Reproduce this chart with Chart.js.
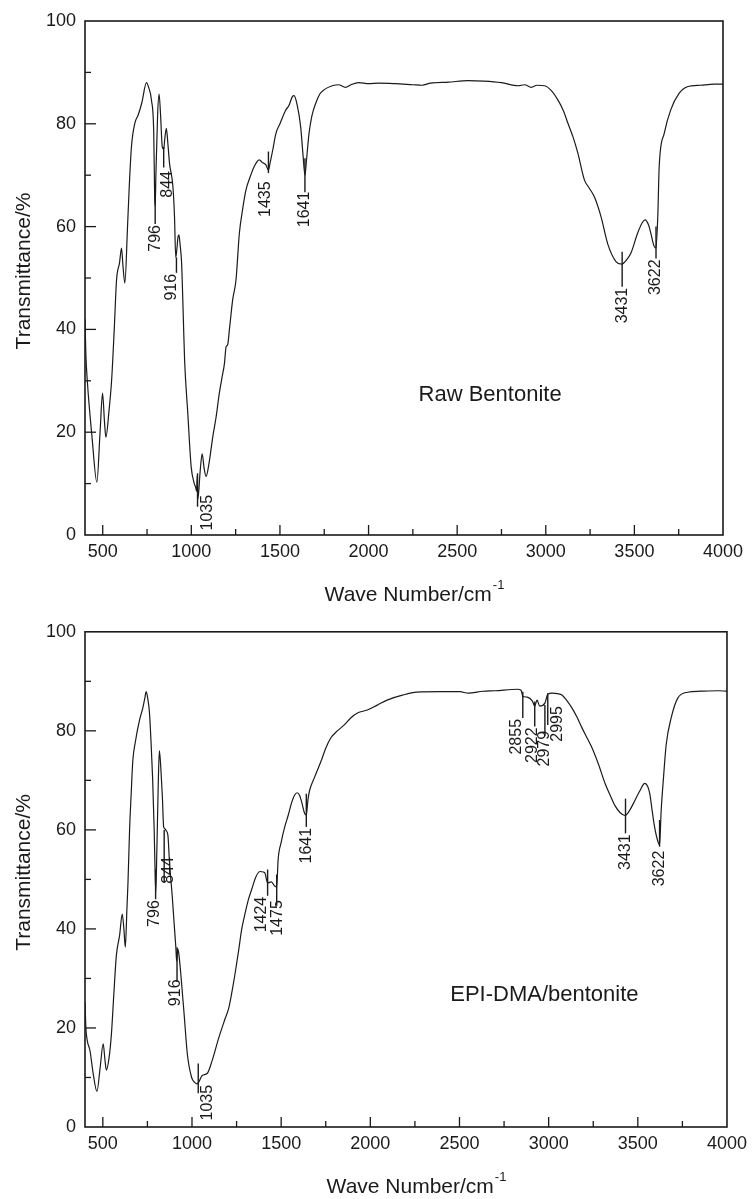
<!DOCTYPE html>
<html>
<head>
<meta charset="utf-8">
<script src="https://cdn.jsdelivr.net/npm/chart.js@4"></script>
<style>
  body { margin: 0; background: #fff; }
  canvas { display: block; }
</style>
</head>
<body>
<canvas id="rawChart" width="753" height="612"></canvas>
<canvas id="epiChart" width="753" height="587"></canvas>
<script>
// axis ticks
const xTickValues = [500, 1000, 1500, 2000, 2500, 3000, 3500, 4000];
const yTickValues = [0, 20, 40, 60, 80, 100];

// Raw bentonite spectrum (wave number, transmittance %)
const rawWave = [400, 405, 413, 440, 467, 485, 499, 510, 518, 535, 550, 565, 578, 595, 606, 615, 625, 640, 650, 662,
  681, 700, 720, 747, 760, 775, 788, 793, 796, 800, 810, 818, 826, 836, 844, 850, 859, 868, 877, 896,
  905, 912, 918, 925, 930, 938, 945, 955, 962, 980, 999, 1015, 1025, 1030, 1033, 1037, 1050, 1061, 1072, 1083,
  1100, 1121, 1140, 1158, 1175, 1187, 1196, 1205, 1215, 1233, 1252, 1271, 1290, 1308, 1330, 1355, 1383, 1400, 1421, 1435,
  1445, 1460, 1477, 1500, 1533, 1550, 1570, 1580, 1595, 1617, 1630, 1641, 1650, 1664, 1680, 1702, 1725, 1748, 1795, 1830,
  1870, 1900, 1945, 2000, 2057, 2150, 2250, 2301, 2350, 2450, 2563, 2650, 2750, 2844, 2880, 2918, 2950, 2993, 3030, 3069,
  3100, 3125, 3155, 3181, 3218, 3245, 3274, 3312, 3349, 3396, 3428, 3455, 3480, 3518, 3545, 3561, 3580, 3593, 3610, 3622,
  3632, 3640, 3668, 3705, 3752, 3799, 3874, 3950, 4000];
const rawTrans = [42, 35, 30, 18.9, 10.3, 20, 27.6, 22, 19, 24, 30, 40, 49.6, 53, 55.8, 52, 49, 60, 68, 75.5,
  80.1, 81.7, 84, 88, 87, 84.6, 78, 66, 64, 70, 82, 85.8, 82, 75.5, 75, 77, 79.1, 76, 72.3, 67.8,
  62, 54, 55.5, 58, 58.4, 56, 53, 42, 34, 23.7, 13.3, 10.2, 9.2, 8.5, 11.5, 7, 12.5, 15.8, 13, 11.4,
  14, 19.1, 23, 27.6, 31, 33.4, 36.6, 37, 40, 45.7, 49.6, 58.7, 63.5, 67.1, 69.5, 71.7, 73, 72.5, 72, 71,
  72.5, 75, 78.1, 80, 82.7, 83.5, 85.3, 85.5, 84, 79.4, 74, 70, 73, 78.1, 81.5, 84, 85.8, 86.6, 87.4, 87.6,
  87.1, 87.6, 88, 87.8, 87.9, 87.8, 87.6, 87.5, 87.9, 88.1, 88.4, 88.3, 88, 87.4, 87.6, 87.1, 87.5, 87.4, 86.5, 84.6,
  82.5, 80.1, 77.3, 74.3, 69.1, 67.5, 65.8, 61.9, 56.7, 53.2, 52.7, 53.5, 54.8, 58.7, 60.8, 61.3, 60.3, 58.7, 56.3, 55.8,
  62, 71.7, 78.1, 82.7, 85.9, 87.2, 87.5, 87.7, 87.7];

// EPI-DMA/bentonite spectrum
const epiWave = [400, 405, 413, 428, 445, 467, 485, 502, 512, 520, 535, 548, 562, 576, 594, 609, 618, 626, 635, 641,
  650, 659, 668, 683, 706, 724, 735, 743, 752, 761, 770, 779, 788, 794, 797, 803, 810, 817, 826, 834,
  841, 848, 856, 865, 874, 889, 900, 909, 914, 920, 926, 937, 956, 974, 998, 1015, 1029, 1040, 1057, 1085,
  1113, 1150, 1187, 1206, 1225, 1243, 1261, 1279, 1300, 1317, 1335, 1358, 1382, 1400, 1409, 1424, 1445, 1465, 1475, 1483,
  1500, 1520, 1540, 1557, 1575, 1590, 1603, 1613, 1632, 1641, 1650, 1659, 1687, 1724, 1750, 1779, 1815, 1854, 1890, 1928,
  1983, 2039, 2094, 2180, 2261, 2400, 2502, 2550, 2632, 2700, 2826, 2845, 2855, 2880, 2909, 2922, 2935, 2950, 2979, 2995,
  3020, 3050, 3076, 3100, 3131, 3160, 3187, 3215, 3243, 3279, 3317, 3345, 3372, 3400, 3428, 3455, 3483, 3510, 3539, 3555,
  3567, 3580, 3594, 3613, 3622, 3631, 3645, 3659, 3687, 3724, 3779, 3850, 3950, 4000];
const epiTrans = [25.3, 20, 17.4, 15.4, 11, 7.2, 12, 16.8, 13.5, 11.5, 14, 18.7, 27, 34.7, 38.7, 43, 40, 36.3, 44, 49.3,
  60, 67.3, 73.9, 77.9, 82.2, 84.6, 86.5, 87.9, 86.5, 83.9, 78, 70.6, 60, 50, 47.5, 56, 68, 76, 72, 66.6,
  60.6, 60.2, 59.8, 58.9, 53.3, 46.7, 41, 36.5, 33.5, 36, 35, 31, 22.7, 14.7, 10, 9, 8.7, 9.2, 10.4, 10.8,
  13.4, 18, 22, 24, 27.5, 31.3, 35.5, 40, 43.5, 46, 48, 50.5, 51.6, 51.5, 51.3, 49.3, 49.5, 48.6, 48.5, 54,
  57.5, 60.6, 63, 65.3, 67, 67.5, 67, 65.9, 63.3, 63, 66, 67.9, 70.6, 73.9, 76.5, 78.6, 80, 81.2, 82.6, 83.6,
  84.2, 85.2, 86.2, 87.2, 87.8, 87.9, 87.9, 87.6, 88, 88.1, 88.4, 88.2, 87, 86.8, 86, 85, 86.2, 85, 85.6, 87.4,
  87.6, 87.5, 87.2, 86.2, 84.6, 82.7, 80.6, 78.6, 76.6, 73.3, 69.3, 67, 64.9, 63.5, 62.9, 64, 65.9, 67.8, 69.4, 68.8,
  67.3, 64, 60.6, 57.6, 57, 63.9, 71, 77.2, 82.6, 86.6, 87.8, 88, 88.1, 88];

// peak markers: wave number, marker line top / bottom, label top (transmittance %)
const rawPeaks = [796, 844, 916, 1035, 1435, 1641, 3431, 3622];
const rawMarkTop = [66.5, 75.5, 54, 12, 74.6, 73.3, 55.1, 60];
const rawMarkBottom = [60.5, 71.5, 51, 5.5, 70.4, 66.7, 48.3, 53.8];
const rawLabelTop = [60.5, 71, 51, 8, 69, 67, 48.3, 53.8];

const epiPeaks = [796, 844, 916, 1035, 1424, 1475, 1641, 2855, 2922, 2979, 2995, 3431, 3622];
const epiMarkTop = [52, 60, 36.3, 12.8, 52, 51, 67.3, 87.9, 85.9, 85.2, 87.6, 66.3, 62];
const epiMarkBottom = [46, 49.3, 29.3, 6.8, 46.7, 44.7, 60.6, 82.6, 80.9, 78.9, 81.2, 59.3, 56.6];
const epiLabelTop = [46, 54.7, 30, 8.7, 46.7, 46, 60.6, 82.6, 80.9, 80.2, 85.2, 59.3, 56];

// label nudges in px (kept apart from the data)
const rawLabelShift = [0, 4, -5, 10, -3, 0, 0, 0];
const epiLabelShift = [-1, 4, -1, 9, -6, 1, 0, -6, -2, 0, 10, 0, 0];

const FONT = "'Liberation Sans', Arial, Helvetica, sans-serif";
const INK = '#1a1a1a';

Chart.defaults.font.family = FONT;
Chart.defaults.font.size = 18;
Chart.defaults.color = INK;

function line(ctx, x1, y1, x2, y2) {
  ctx.beginPath();
  ctx.moveTo(x1, y1);
  ctx.lineTo(x2, y2);
  ctx.stroke();
}

const ftirDecor = {
  id: 'ftirDecor',
  afterDraw(chart, args, o) {
    const { ctx, chartArea: a, scales: { x, y } } = chart;
    ctx.save();
    ctx.strokeStyle = INK;
    ctx.fillStyle = INK;

    // frame
    ctx.lineWidth = 1.6;
    ctx.strokeRect(a.left, a.top, a.right - a.left, a.bottom - a.top);

    // inward ticks, major + minor
    ctx.lineWidth = 1.3;
    for (let v = 500; v < 4000; v += 250) {
      const px = x.getPixelForValue(v);
      line(ctx, px, a.bottom, px, a.bottom - (v % 500 === 0 ? 10 : 6));
    }
    for (let v = 10; v < 100; v += 10) {
      const py = y.getPixelForValue(v);
      line(ctx, a.left, py, a.left + (v % 20 === 0 ? 11 : 6), py);
    }

    // peak markers
    ctx.lineWidth = 1.4;
    ctx.font = '16px ' + FONT;
    o.peaks.forEach((p, i) => {
      const px = x.getPixelForValue(p);
      line(ctx, px, y.getPixelForValue(o.markTop[i]), px, y.getPixelForValue(o.markBottom[i]));
      ctx.save();
      ctx.translate(px + o.shift[i], y.getPixelForValue(o.labelTop[i]) + 1);
      ctx.rotate(-Math.PI / 2);
      ctx.textAlign = 'right';
      ctx.textBaseline = 'middle';
      ctx.fillText(String(p), 0, 0);
      ctx.restore();
    });

    // sample name
    ctx.font = '22px ' + FONT;
    ctx.textAlign = 'left';
    ctx.textBaseline = 'middle';
    ctx.fillText(o.sample, x.getPixelForValue(o.sampleAt[0]), y.getPixelForValue(o.sampleAt[1]));

    // y title
    ctx.save();
    ctx.translate(24, (a.top + a.bottom) / 2 - 7);
    ctx.rotate(-Math.PI / 2);
    ctx.font = '21px ' + FONT;
    ctx.textAlign = 'center';
    ctx.fillText('Transmittance/%', 0, 0);
    ctx.restore();

    // x title with superscript
    ctx.font = '21px ' + FONT;
    const main = 'Wave Number/cm';
    const wMain = ctx.measureText(main).width;
    ctx.font = '13px ' + FONT;
    const wSup = ctx.measureText('-1').width;
    const cx = (a.left + a.right) / 2 + 10;
    const ty = a.bottom + 60;
    const x0 = cx - (wMain + wSup) / 2;
    ctx.textAlign = 'left';
    ctx.font = '21px ' + FONT;
    ctx.fillText(main, x0, ty);
    ctx.font = '13px ' + FONT;
    ctx.fillText('-1', x0 + wMain + 1, ty - 10);
    ctx.restore();
  }
};

function makeChart(id, wave, trans, decor, pad, xHeight) {
  return new Chart(document.getElementById(id), {
    type: 'line',
    data: {
      datasets: [{
        data: wave.map((w, i) => ({ x: w, y: trans[i] })),
        borderColor: INK,
        borderWidth: 1.2,
        pointRadius: 0,
        fill: false,
        cubicInterpolationMode: 'monotone'
      }]
    },
    options: {
      responsive: false,
      animation: false,
      devicePixelRatio: 1,
      layout: { padding: pad },
      plugins: { legend: { display: false }, tooltip: { enabled: false }, ftirDecor: decor },
      scales: {
        x: {
          type: 'linear',
          min: 400,
          max: 4000,
          afterBuildTicks: s => { s.ticks = xTickValues.map(v => ({ value: v })); },
          afterFit: s => { s.height = xHeight; },
          grid: { display: false, drawTicks: false },
          border: { display: false },
          ticks: { padding: 6, maxRotation: 0, autoSkip: false, color: INK, callback: v => String(v) }
        },
        y: {
          min: 0,
          max: 100,
          afterBuildTicks: s => { s.ticks = yTickValues.map(v => ({ value: v })); },
          afterFit: s => { s.width = 85; },
          grid: { display: false, drawTicks: false },
          border: { display: false },
          ticks: { padding: 9, color: INK, callback: v => String(v) }
        }
      }
    },
    plugins: [ftirDecor]
  });
}

makeChart('rawChart', rawWave, rawTrans, {
  peaks: rawPeaks, markTop: rawMarkTop, markBottom: rawMarkBottom, labelTop: rawLabelTop,
  shift: rawLabelShift, sample: 'Raw Bentonite', sampleAt: [2282, 27.2]
}, { left: 0, top: 21, right: 30, bottom: 0 }, 77);

makeChart('epiChart', epiWave, epiTrans, {
  peaks: epiPeaks, markTop: epiMarkTop, markBottom: epiMarkBottom, labelTop: epiLabelTop,
  shift: epiLabelShift, sample: 'EPI-DMA/bentonite', sampleAt: [2448, 26.7]
}, { left: 0, top: 14, right: 23, bottom: 0 }, 72);
</script>
</body>
</html>
